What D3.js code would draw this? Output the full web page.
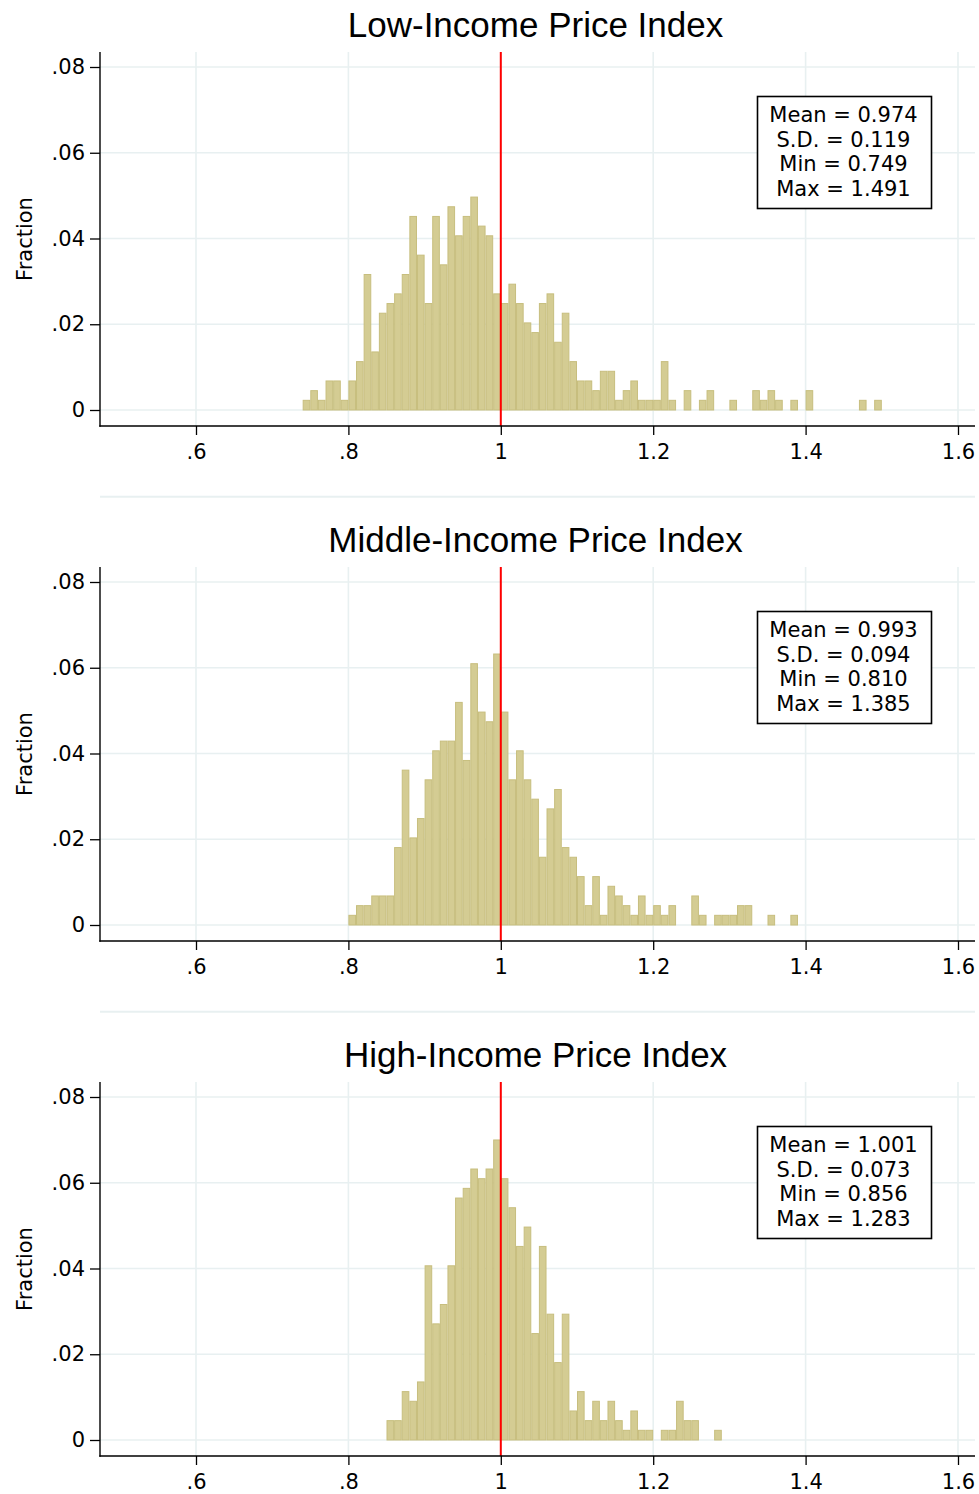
<!DOCTYPE html>
<html>
<head>
<meta charset="utf-8">
<script src="https://cdn.jsdelivr.net/npm/d3@7"></script>
<style>
  html, body { margin: 0; padding: 0; background: #ffffff; }
  svg { display: block; }
</style>
</head>
<body>
<div id="chart"></div>
<script>
// ---------------- data ----------------
const panelTitles = ["Low-Income Price Index", "Middle-Income Price Index", "High-Income Price Index"];
const nObs = 443;            // observations per histogram
const binWidth = 0.01;
const binStarts = [0.74, 0.80, 0.85];
// bar heights, in observations per bin (fraction = count / nObs)
const lowCounts = [1,2,1,3,3,1,3,5,14,6,10,11,12,14,20,16,11,20,15,21,18,20,22,19,18,12,11,13,11,9,8,11,12,7,10,5,3,3,2,4,4,1,2,3,1,1,1,5,1,0,2,0,1,2,0,0,1,0,0,2,1,2,1,0,1,0,2,0,0,0,0,0,0,1,0,1];
const middleCounts = [1,2,2,3,3,3,8,16,9,11,15,18,19,19,23,17,27,22,21,28,22,15,18,15,13,7,12,14,8,7,5,2,5,1,4,3,2,1,3,1,2,1,2,0,0,3,1,0,1,1,1,2,2,0,0,1,0,0,1];
const highCounts = [2,2,5,4,6,18,12,14,18,25,26,28,27,28,31,27,24,20,22,11,20,13,8,13,3,5,2,4,2,4,2,1,3,1,1,0,1,1,4,2,2,0,0,1];
const allCounts = [lowCounts, middleCounts, highCounts];
const statMean = ["0.974", "0.993", "1.001"];
const statSD   = ["0.119", "0.094", "0.073"];
const statMin  = ["0.749", "0.810", "0.856"];
const statMax  = ["1.491", "1.385", "1.283"];
const xTicks = [0.6, 0.8, 1.0, 1.2, 1.4, 1.6];
const xTickLabels = [".6", ".8", "1", "1.2", "1.4", "1.6"];
const yTicks = [0, 0.02, 0.04, 0.06, 0.08];
const yTickLabels = ["0", ".02", ".04", ".06", ".08"];
const refLineX = 1;
const yAxisTitle = "Fraction";

// ---------------- layout ----------------
const W = 979, H = 1494;
const panelStep = 515;
const plotLeft = 100, plotRight = 975, plotTop = 52, plotBottom = 426;
const smallFont = "'DejaVu Sans', sans-serif";
const titleFont = "'Liberation Sans', Arial, sans-serif";
const gridColor = "#e8f0f1";
const barFill = "#d4cc93", barStroke = "#c7be7e";

const svg = d3.select("#chart").append("svg")
  .attr("width", W).attr("height", H)
  .attr("viewBox", `0 0 ${W} ${H}`);
svg.append("rect").attr("width", W).attr("height", H).attr("fill", "#fff");

const x = d3.scaleLinear().domain([0.6, 1.6]).range([196, 958]);

panelTitles.forEach((title, i) => {
  const off = i * panelStep;
  const g = svg.append("g").attr("transform", `translate(0,${off})`);
  const y = d3.scaleLinear().domain([0, 0.08]).range([410, 67]);

  // separator between panels
  if (i > 0) {
    svg.append("line")
      .attr("x1", plotLeft).attr("x2", plotRight)
      .attr("y1", off - 18.3).attr("y2", off - 18.3)
      .attr("stroke", gridColor).attr("stroke-width", 2);
  }

  // gridlines
  g.append("g").selectAll("line.vg").data(xTicks).join("line")
    .attr("x1", d => x(d)).attr("x2", d => x(d))
    .attr("y1", plotTop).attr("y2", plotBottom)
    .attr("stroke", gridColor).attr("stroke-width", 1.6);
  g.append("g").selectAll("line.hg").data(yTicks).join("line")
    .attr("x1", plotLeft).attr("x2", plotRight)
    .attr("y1", d => y(d)).attr("y2", d => y(d))
    .attr("stroke", gridColor).attr("stroke-width", 1.6);

  // bars
  const bins = allCounts[i].map((c, k) => ({
    x0: +(binStarts[i] + k * binWidth).toFixed(2),
    x1: +(binStarts[i] + (k + 1) * binWidth).toFixed(2),
    frac: c / nObs
  })).filter(d => d.frac > 0);
  g.append("g").selectAll("rect").data(bins).join("rect")
    .attr("x", d => x(d.x0) + 0.5)
    .attr("width", d => x(d.x1) - x(d.x0) - 1)
    .attr("y", d => y(d.frac))
    .attr("height", d => y(0) - y(d.frac))
    .attr("fill", barFill)
    .attr("stroke", barStroke)
    .attr("stroke-width", 1);

  // reference line
  g.append("line")
    .attr("x1", x(refLineX)).attr("x2", x(refLineX))
    .attr("y1", plotTop).attr("y2", plotBottom)
    .attr("stroke", "#ff0000").attr("stroke-width", 2);

  // axes
  const xAxis = d3.axisBottom(x).tickValues(xTicks)
    .tickFormat((d, k) => xTickLabels[k]).tickSize(9).tickPadding(9);
  const gx = g.append("g").attr("transform", `translate(0,${plotBottom})`).call(xAxis);
  gx.select(".domain").remove();
  gx.selectAll(".tick line").attr("stroke", "#000").attr("stroke-width", 1.3);
  gx.selectAll("text").attr("font-family", smallFont).attr("font-size", 21).attr("fill", "#000");

  const yAxis = d3.axisLeft(y).tickValues(yTicks)
    .tickFormat((d, k) => yTickLabels[k]).tickSize(10).tickPadding(5);
  const gy = g.append("g").attr("transform", `translate(${plotLeft},0)`).call(yAxis);
  gy.select(".domain").remove();
  gy.selectAll(".tick line").attr("stroke", "#000").attr("stroke-width", 1.3);
  gy.selectAll("text").attr("font-family", smallFont).attr("font-size", 21).attr("fill", "#000");

  g.append("line").attr("x1", plotLeft).attr("x2", plotLeft)
    .attr("y1", plotTop).attr("y2", plotBottom + 0.7)
    .attr("stroke", "#000").attr("stroke-width", 1.4);
  g.append("line").attr("x1", plotLeft - 0.7).attr("x2", plotRight)
    .attr("y1", plotBottom).attr("y2", plotBottom)
    .attr("stroke", "#000").attr("stroke-width", 1.4);

  // title
  g.append("text")
    .attr("x", 535.5).attr("y", 37.3)
    .attr("text-anchor", "middle")
    .attr("font-family", titleFont).attr("font-size", 35)
    .attr("fill", "#000").text(title);

  // y axis title
  g.append("text")
    .attr("transform", `translate(32,${(plotTop + plotBottom) / 2}) rotate(-90)`)
    .attr("text-anchor", "middle")
    .attr("font-family", smallFont).attr("font-size", 21)
    .attr("fill", "#000").text(yAxisTitle);

  // stats box
  g.append("rect")
    .attr("x", 757.5).attr("y", 96.5).attr("width", 174).attr("height", 112)
    .attr("fill", "#fff").attr("stroke", "#000").attr("stroke-width", 1.6);
  const lines = [`Mean = ${statMean[i]}`, `S.D. = ${statSD[i]}`, `Min = ${statMin[i]}`, `Max = ${statMax[i]}`];
  g.append("g").selectAll("text").data(lines).join("text")
    .attr("x", 843.5)
    .attr("y", (d, k) => 121.7 + k * 24.8)
    .attr("text-anchor", "middle")
    .attr("font-family", smallFont).attr("font-size", 21)
    .attr("fill", "#000").text(d => d);
});
</script>
</body>
</html>
